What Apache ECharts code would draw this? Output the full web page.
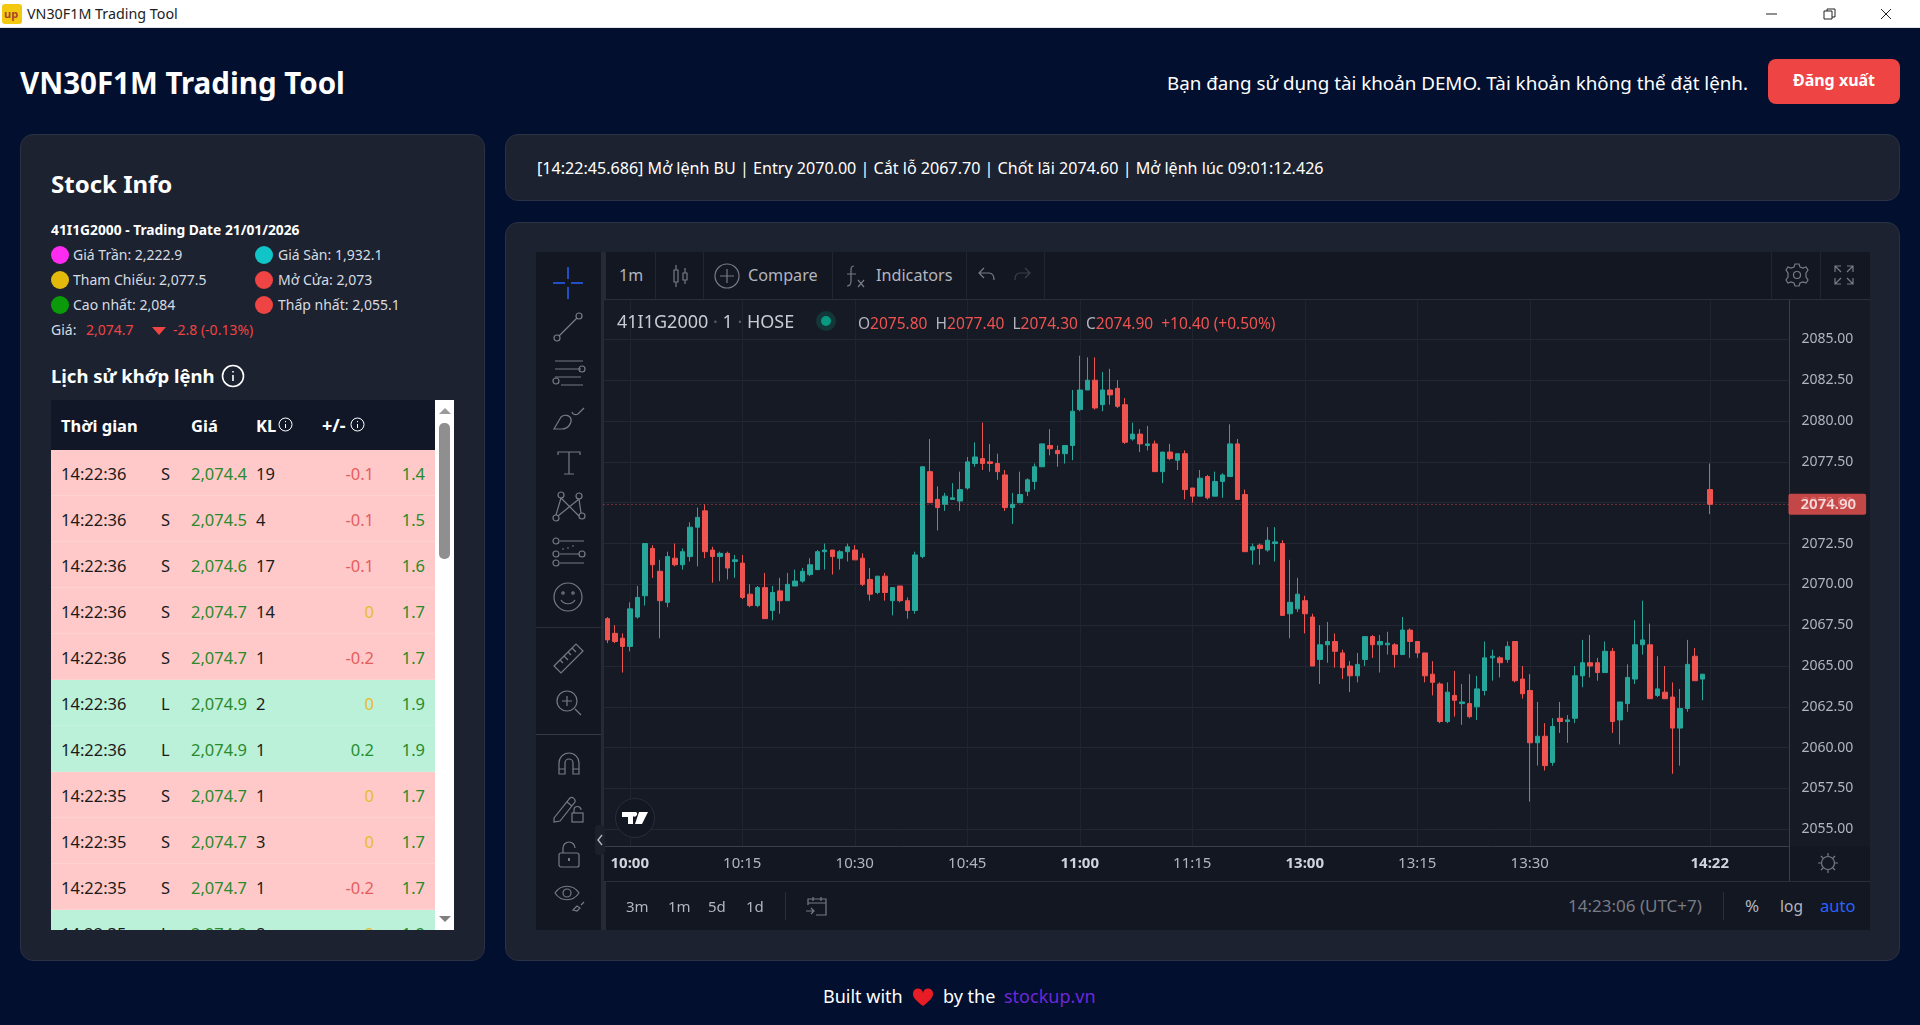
<!DOCTYPE html>
<html lang="vi">
<head>
<meta charset="utf-8">
<title>VN30F1M Trading Tool</title>
<script src="https://cdn.jsdelivr.net/npm/echarts@6/dist/echarts.min.js"></script>
<style>
html,body{margin:0;padding:0;width:1920px;height:1025px;overflow:hidden;background:#020f2e;font-family:"Noto Sans","Open Sans",sans-serif;color:#fff}
.a{position:absolute}
.t{position:absolute;transform:translateY(-50%);white-space:nowrap;line-height:1.2}
.card{position:absolute;background:#1c222f;border:1px solid #293142;border-radius:13px;box-sizing:border-box}
.dot{position:absolute;width:18px;height:18px;border-radius:50%;transform:translateY(-50%)}
.tv{font-family:"Noto Sans",sans-serif;color:#b2b5be}
.ic{position:absolute;fill:none;stroke:#787b86;stroke-width:1.2}
.row{position:absolute;left:0;width:384px;height:46px;box-sizing:border-box;border-bottom:1px solid rgba(255,255,255,.18);color:#1b1b1b;font-size:16.5px}
.row span{position:absolute;top:23px;transform:translateY(-50%);white-space:nowrap}
</style>
</head>
<body>
<!-- title bar -->
<div class="a" style="left:0;top:0;width:1920px;height:28px;background:#fff;border-bottom:1px solid #e3e3e3;box-sizing:border-box"></div>
<div class="a" style="left:2px;top:4px;width:20px;height:20px;background:#f2c811;border-radius:3px"></div>
<div class="t" style="left:4px;top:14px;color:#a8452a;font-size:11px;font-weight:700">up</div>
<div class="t" style="left:27px;top:14px;color:#222;font-size:14.3px">VN30F1M Trading Tool</div>
<svg class="a" style="left:1760px;top:6px" width="140" height="16" fill="none" stroke="#222" stroke-width="1">
  <path d="M6 8h11M64 5h8v8h-8zM67 5V3h8v8h-3M121 3l10 10M131 3l-10 10"/>
</svg>

<!-- header -->
<div class="t" style="left:20px;top:83px;font-size:29.5px;font-weight:700">VN30F1M Trading Tool</div>
<div class="t" style="left:1167px;top:83px;font-size:18.8px">Bạn đang sử dụng tài khoản DEMO. Tài khoản không thể đặt lệnh.</div>
<div class="a" style="left:1768px;top:59px;width:132px;height:45px;background:#ef4444;border-radius:8px"></div>
<div class="t" style="left:1768px;top:81px;width:132px;text-align:center;font-size:16px;font-weight:700">Đăng xuất</div>

<!-- left card -->
<div class="card" style="left:20px;top:134px;width:465px;height:827px"></div>
<div class="t" style="left:51px;top:184px;font-size:24px;font-weight:700">Stock Info</div>
<div class="t" style="left:51px;top:230px;font-size:13.8px;font-weight:700">41I1G2000 - Trading Date 21/01/2026</div>
<div id="stats"></div>
<div class="t" style="left:51px;top:330px;font-size:14px;color:#d8dce2">Giá:</div>
<div class="t" style="left:86px;top:330px;font-size:14px;color:#ef4444">2,074.7</div>
<div class="a" style="left:152px;top:327px;width:0;height:0;border-left:7px solid transparent;border-right:7px solid transparent;border-top:8px solid #ef4444"></div>
<div class="t" style="left:173px;top:330px;font-size:14px;color:#ef4444">-2.8 (-0.13%)</div>
<div class="t" style="left:51px;top:376px;font-size:18.5px;font-weight:700">Lịch sử khớp lệnh</div>
<svg class="a" style="left:221px;top:364px" width="24" height="24" fill="none" stroke="#fff" stroke-width="1.6"><circle cx="12" cy="12" r="10.5"/><path d="M12 11v6M12 7v1.500"/></svg>

<!-- order table -->
<div class="a" style="left:51px;top:400px;width:403px;height:530px;background:#fff;overflow:hidden">
  <div class="a" style="left:0;top:0;width:384px;height:50px;background:#111726"></div>
  <div class="t" style="left:10px;top:26px;font-size:16.5px;font-weight:700">Thời gian</div>
  <div class="t" style="left:140px;top:26px;font-size:16.5px;font-weight:700">Giá</div>
  <div class="t" style="left:205px;top:26px;font-size:16.5px;font-weight:700">KL</div>
  <div class="t" style="left:271px;top:26px;font-size:18px;font-weight:700">+/-</div>
  <svg class="a" style="left:227px;top:17px" width="15" height="15" fill="none" stroke="#fff" stroke-width="1"><circle cx="7.5" cy="7.5" r="6.5"/><path d="M7.5 7v4M7.5 4v1.2"/></svg>
  <svg class="a" style="left:299px;top:17px" width="15" height="15" fill="none" stroke="#fff" stroke-width="1"><circle cx="7.5" cy="7.5" r="6.5"/><path d="M7.5 7v4M7.5 4v1.2"/></svg>
  <div id="rows" class="a" style="left:0;top:50px;width:384px;height:480px;overflow:hidden"></div>
  <div class="a" style="left:388px;top:23px;width:11px;height:136px;background:#8f8f8f;border-radius:5px"></div>
  <div class="a" style="left:388px;top:8px;width:0;height:0;border-left:6px solid transparent;border-right:6px solid transparent;border-bottom:6px solid #9a9a9a"></div>
  <div class="a" style="left:388px;top:516px;width:0;height:0;border-left:6px solid transparent;border-right:6px solid transparent;border-top:6px solid #7f7f7f"></div>
</div>

<!-- status card -->
<div class="card" style="left:505px;top:134px;width:1395px;height:67px"></div>
<div class="t" style="left:537px;top:169px;font-size:16.1px">[14:22:45.686] Mở lệnh BU | Entry 2070.00 | Cắt lỗ 2067.70 | Chốt lãi 2074.60 | Mở lệnh lúc 09:01:12.426</div>

<!-- chart card and widget -->
<div class="card" style="left:505px;top:222px;width:1395px;height:739px"></div>
<div class="a" style="left:536px;top:252px;width:1334px;height:678px;background:#262a35"></div>
<div class="a" style="left:536px;top:252px;width:65px;height:678px;background:#131722"></div>
<div class="a" style="left:606px;top:252px;width:1264px;height:48px;background:#131722"></div>
<div class="a" style="left:604px;top:300px;width:1266px;height:546px;background:#161a25"></div>
<div class="a" style="left:604px;top:846px;width:1266px;height:35px;background:#131722"></div>
<div class="a" style="left:606px;top:882px;width:1264px;height:48px;background:#131722"></div>
<div class="a" style="left:536px;top:627px;width:65px;height:1px;background:#2a2e39"></div>
<div class="a" style="left:536px;top:734px;width:65px;height:1px;background:#363a45"></div>
<div id="seps"></div>

<div id="main" class="a" style="left:600px;top:300px;width:1270px;height:581px"></div>

<!-- top toolbar -->
<div class="t tv" style="left:619px;top:276px;font-size:16px">1m</div>
<svg class="ic" style="left:669px;top:262px" width="22" height="28"><path d="M7 3v5M7 20v5M5 8h4v12H5zM16 6v5M16 18v4M14 11h4v7h-4z"/></svg>
<svg class="ic" style="left:714px;top:263px" width="26" height="26"><circle cx="13" cy="13" r="12"/><path d="M13 6v14M6 13h14"/></svg>
<div class="t tv" style="left:748px;top:276px;font-size:16.2px">Compare</div>
<svg class="ic" style="left:843px;top:263px" width="24" height="26"><path d="M11 3c-3 0-3 2-3 5v10c0 3-1 5-4 5M4 11h9M15 17l6 7M21 17l-6 7"/></svg>
<div class="t tv" style="left:876px;top:276px;font-size:16.2px">Indicators</div>
<svg class="ic" style="left:977px;top:266px" width="20" height="18"><path d="M7 2 2 7l5 5M2 7h10c3 0 5 2 5 7"/></svg>
<svg class="ic" style="left:1012px;top:266px;stroke:#3c404c" width="20" height="18"><path d="M13 2l5 5-5 5M18 7H8c-3 0-5 2-5 7"/></svg>
<svg class="ic" style="left:1784px;top:262px" width="26" height="26"><circle cx="13" cy="13" r="3.5"/><path d="M11 2h4l1 3 3 1 3-1 2 3-2 3v4l2 3-2 3-3-1-3 1-1 3h-4l-1-3-3-1-3 1-2-3 2-3v-4L2 8l2-3 3 1 3-1z"/></svg>
<svg class="ic" style="left:1833px;top:264px" width="22" height="22"><path d="M2 8V2h6M2 2l6 6M20 8V2h-6M20 2l-6 6M2 14v6h6M2 20l6-6M20 14v6h-6M20 20l-6-6"/></svg>

<!-- legend over the plot -->
<div class="t" style="left:617px;top:322px;font-size:18px;color:#c8cbd2">41I1G2000 <span style="color:#5d606b">·</span> 1 <span style="color:#5d606b">·</span> HOSE</div>
<div class="a" style="left:816px;top:311px;width:20px;height:20px;border-radius:50%;background:rgba(8,153,129,.22)"></div>
<div class="a" style="left:821px;top:316px;width:10px;height:10px;border-radius:50%;background:#089981"></div>
<div class="t" style="left:858px;top:323px;font-size:15.5px;color:#b2b5be">O<span style="color:#ef5350">2075.80</span>&nbsp; H<span style="color:#ef5350">2077.40</span>&nbsp; L<span style="color:#ef5350">2074.30</span>&nbsp; C<span style="color:#ef5350">2074.90</span>&nbsp; <span style="color:#ef5350">+10.40 (+0.50%)</span></div>

<!-- left toolbar -->
<svg class="a" style="left:550px;top:265px" width="36" height="36" fill="none" stroke="#2962ff" stroke-width="1.5"><path d="M18 2v12M18 22v12M3 18h12M21 18h12"/></svg>
<svg class="ic" style="left:552px;top:310px" width="32" height="34"><circle cx="5" cy="28" r="3"/><circle cx="27" cy="6" r="3"/><path d="M7 26 25 8"/></svg>
<svg class="ic" style="left:552px;top:358px" width="34" height="28"><path d="M3 3h28M3 11h26M3 19h26M9 27h22"/><circle cx="30" cy="11" r="3"/><circle cx="4" cy="23" r="3"/></svg>
<svg class="ic" style="left:552px;top:404px" width="34" height="28"><path d="M2 25 9 13c3-3 9-2 10 2 1 4-3 10-9 10zM20 8c1 3 4 3 6 2l6-6"/></svg>
<svg class="ic" style="left:554px;top:449px" width="30" height="28"><path d="M4 6V3h22v3M15 3v22M10 25h10"/></svg>
<svg class="ic" style="left:552px;top:490px" width="34" height="34"><circle cx="9" cy="5" r="3"/><circle cx="27" cy="6" r="3"/><circle cx="4" cy="28" r="3"/><circle cx="30" cy="26" r="3"/><path d="M9 8 4 25M9 8l18 18M27 9 6 26M27 9l2 14"/></svg>
<svg class="ic" style="left:552px;top:536px" width="34" height="32"><circle cx="4" cy="5" r="3"/><circle cx="4" cy="18" r="3"/><circle cx="4" cy="27" r="3"/><circle cx="30" cy="18" r="3"/><path d="M8 5h24M8 27h24M8 18h19M10 13h2M15 12h2M20 10h2"/></svg>
<svg class="ic" style="left:552px;top:581px" width="32" height="32" stroke-width="1.4"><circle cx="16" cy="16" r="14"/><circle cx="11" cy="12" r="1.2"/><circle cx="21" cy="12" r="1.2"/><path d="M9 19c3 5 11 5 14 0"/></svg>
<svg class="ic" style="left:552px;top:642px" width="34" height="34"><path d="M2 24 24 2l7 7L9 31zM8 18l3 3M12 14l4 4M16 10l3 3M20 6l4 4"/></svg>
<svg class="ic" style="left:554px;top:688px" width="30" height="30"><circle cx="13" cy="13" r="10"/><path d="M13 8v10M8 13h10M21 21l6 6"/></svg>
<svg class="ic" style="left:556px;top:750px" width="26" height="28"><path d="M3 24V13a10 10 0 0 1 20 0v11h-6V13a4 4 0 0 0-8 0v11zM3 19h6M17 19h6"/></svg>
<svg class="ic" style="left:552px;top:794px" width="34" height="30"><path d="M2 24 18 4c2-2 6 1 5 4L8 27l-6 1zM15 8l5 4"/><rect x="20" y="19" width="11" height="9"/><path d="M22 19v-3a3.500 3.500 0 0 1 7 0"/></svg>
<svg class="ic" style="left:556px;top:840px" width="26" height="30"><rect x="3" y="13" width="20" height="14" rx="2"/><path d="M7 13V8a6 6 0 0 1 12 0"/><path d="M13 18v3" stroke-width="2"/></svg>
<svg class="ic" style="left:553px;top:882px" width="34" height="34"><path d="M2 11c6-9 18-9 24 0-6 9-18 9-24 0z"/><circle cx="14" cy="11" r="4"/><path d="M20 28l4-4 3 2-3 3zM28 23l3-3"/></svg>
<div class="a" style="left:595px;top:825px;width:10px;height:30px;background:#1c202b;border-radius:4px"></div>
<svg class="a" style="left:596px;top:834px" width="8" height="12" fill="none" stroke="#b2b5be" stroke-width="1.4"><path d="M6 1 2 6l4 5"/></svg>
<div class="a" style="left:615px;top:798px;width:40px;height:40px;border-radius:50%;background:#131722;border:1px solid #2a2e39;box-sizing:border-box"></div>
<svg class="a" style="left:621px;top:811px" width="28" height="14" fill="#fff"><path d="M1 1h11v12H7V6H1zM18 1h9l-6 12h-7zM12 1h3a2.500 2.500 0 1 1-3 0z"/></svg>

<!-- bottom bar -->
<div class="t tv" style="left:626px;top:906px;font-size:15px">3m</div>
<div class="t tv" style="left:668px;top:906px;font-size:15px">1m</div>
<div class="t tv" style="left:708px;top:906px;font-size:15px">5d</div>
<div class="t tv" style="left:746px;top:906px;font-size:15px">1d</div>
<svg class="ic" style="left:804px;top:895px" width="24" height="22"><path d="M4 10V4h18v16H12M4 8h18M9 2v4M17 2v4M2 16h8M7 13l3 3-3 3"/></svg>
<div class="t" style="left:1568px;top:906px;font-size:17px;color:#787b86">14:23:06 (UTC+7)</div>
<div class="t tv" style="left:1745px;top:906px;font-size:17px">%</div>
<div class="t tv" style="left:1780px;top:906px;font-size:15.5px">log</div>
<div class="t" style="left:1820px;top:906px;font-size:16.5px;color:#2962ff">auto</div>
<svg class="ic" style="left:1816px;top:851px" width="24" height="24"><circle cx="12" cy="12" r="6.500"/><path d="M12 2v3M12 19v3M2 12h3M19 12h3M5 5l2 2M17 17l2 2M5 19l2-2M17 7l2-2"/></svg>

<!-- footer -->
<div class="t" style="left:823px;top:997px;font-size:18px">Built with</div>
<svg class="a" style="left:912px;top:988px" width="22" height="19" fill="#e81c24"><path d="M11 18C3 12 1 9 1 6a5 5 0 0 1 10-1 5 5 0 0 1 10 1c0 3-2 6-10 12z"/></svg>
<div class="t" style="left:943px;top:997px;font-size:18px">by the</div>
<div class="t" style="left:1004px;top:997px;font-size:18px;color:#6d28d9">stockup.vn</div>

<script>
// gia mo, cao, thap, dong cua tung nen 1 phut, doc tu hinh
var opens = [2067.9,2067.0,2066.7,2066.2,2068.0,2069.3,2072.2,2070.8,2068.9,2071.6,2071.2,2071.7,2073.5,2074.5,2072.1,2071.7,2071.9,2071.4,2071.3,2069.4,
  2068.7,2069.8,2068.4,2069.6,2069.0,2069.9,2070.2,2070.6,2070.9,2072.0,2072.1,2071.6,2072.0,2072.1,2071.6,2070.3,2069.5,2070.5,2069.0,2069.9,
  2069.0,2068.4,2071.7,2076.9,2075.2,2074.9,2075.2,2075.1,2075.9,2077.4,2077.7,2077.5,2077.4,2076.7,2074.7,2075.0,2075.7,2076.3,2077.2,2078.5,
  2078.2,2078.0,2078.5,2080.7,2081.9,2082.5,2081.0,2081.9,2082.0,2081.0,2078.9,2079.2,2078.5,2078.6,2076.9,2078.1,2077.6,2078.0,2075.9,2075.4,
  2076.6,2075.4,2076.3,2076.6,2078.6,2075.5,2072.1,2072.4,2072.1,2072.5,2072.5,2068.2,2068.5,2069.0,2068.0,2065.4,2066.3,2066.5,2065.8,2065.0,
  2064.4,2065.4,2066.8,2066.3,2066.3,2066.3,2065.7,2067.2,2066.5,2065.8,2064.5,2063.9,2061.6,2063.2,2062.7,2062.7,2062.5,2063.5,2065.5,2065.5,
  2065.4,2066.5,2064.2,2063.5,2060.3,2060.7,2059.1,2061.8,2061.6,2061.8,2064.4,2065.2,2065.2,2064.6,2065.9,2061.7,2062.7,2064.2,2066.3,2066.3,
  2063.2,2063.4,2063.1,2061.2,2062.4,2065.6,2064.2,2075.8];
var highs = [2068.0,2067.5,2067.0,2068.9,2069.9,2072.5,2072.4,2071.5,2072.0,2072.5,2072.2,2073.8,2074.7,2074.9,2072.3,2072.0,2072.0,2071.8,2071.8,2070.0,
  2069.9,2070.7,2069.9,2070.4,2070.7,2070.9,2071.0,2071.6,2072.1,2072.5,2072.1,2072.1,2072.5,2072.4,2071.9,2071.0,2070.5,2070.7,2069.8,2069.9,
  2069.2,2072.0,2077.2,2078.9,2076.0,2075.6,2076.2,2076.9,2077.8,2078.7,2079.9,2078.6,2078.0,2077.0,2075.6,2076.9,2076.5,2077.4,2078.6,2079.5,
  2078.5,2078.5,2081.9,2084.0,2083.9,2083.9,2083.0,2083.2,2082.5,2081.4,2079.9,2079.5,2079.7,2078.8,2078.1,2078.6,2078.0,2078.2,2075.9,2077.0,
  2076.7,2076.9,2076.8,2079.8,2078.9,2075.8,2072.5,2072.5,2073.5,2073.5,2072.7,2071.5,2070.4,2069.3,2068.2,2067.5,2067.7,2067.0,2066.0,2065.3,
  2065.8,2066.8,2066.9,2066.9,2067.1,2066.4,2068.0,2067.3,2066.5,2065.8,2065.3,2064.0,2064.0,2064.7,2063.9,2064.5,2064.4,2066.5,2066.0,2065.6,
  2066.5,2066.5,2065.0,2064.5,2062.8,2061.5,2061.8,2062.8,2062.0,2065.0,2066.6,2066.9,2065.5,2066.5,2066.1,2062.8,2065.1,2067.8,2069.0,2067.6,
  2065.6,2065.0,2064.0,2063.6,2066.6,2066.1,2064.5,2077.4];
var lows = [2066.4,2066.4,2064.6,2065.9,2067.9,2068.7,2070.4,2066.7,2068.6,2071.1,2070.9,2071.4,2071.1,2071.6,2070.1,2070.2,2070.3,2070.4,2069.1,2068.6,
  2068.6,2067.9,2067.8,2068.2,2069.0,2069.9,2070.1,2070.5,2070.9,2070.9,2070.6,2070.9,2071.4,2071.5,2069.9,2069.0,2069.4,2069.0,2068.1,2068.9,
  2067.9,2068.2,2071.6,2075.0,2073.3,2074.5,2075.2,2074.5,2075.8,2077.2,2077.0,2076.9,2076.4,2074.5,2073.7,2075.0,2075.4,2075.8,2077.2,2077.9,
  2077.2,2077.4,2077.6,2080.6,2081.9,2080.7,2080.6,2081.0,2080.8,2078.6,2078.8,2078.1,2078.2,2076.9,2076.2,2077.6,2077.0,2075.2,2075.0,2075.4,
  2075.2,2075.4,2075.3,2076.6,2075.2,2072.0,2071.2,2071.2,2072.0,2071.4,2068.1,2066.7,2068.3,2067.0,2065.0,2063.9,2065.2,2064.9,2064.2,2063.4,
  2064.0,2065.0,2065.5,2064.6,2065.7,2064.9,2065.7,2065.5,2065.5,2064.0,2063.2,2061.5,2061.5,2061.9,2061.4,2061.8,2061.7,2063.2,2064.1,2064.3,
  2065.2,2064.0,2063.0,2056.7,2058.9,2058.6,2058.9,2060.9,2060.3,2061.5,2063.7,2064.3,2064.1,2064.6,2060.9,2060.2,2062.2,2063.9,2065.7,2063.0,
  2063.1,2063.0,2058.4,2058.9,2062.2,2064.1,2062.9,2074.3];
var closes = [2066.6,2066.5,2066.2,2068.5,2069.2,2072.5,2071.2,2069.0,2071.7,2071.2,2072.0,2073.5,2074.1,2072.0,2071.7,2071.9,2071.0,2071.5,2069.2,2068.7,
  2069.8,2067.9,2069.5,2069.0,2070.0,2070.2,2070.8,2071.2,2072.0,2072.1,2071.7,2072.0,2072.3,2071.5,2070.0,2069.4,2070.5,2069.5,2069.8,2069.0,
  2068.4,2071.8,2077.2,2075.0,2074.7,2075.4,2075.3,2075.8,2077.5,2077.8,2077.4,2077.4,2076.9,2074.7,2074.9,2075.5,2076.4,2077.2,2078.6,2078.3,
  2078.0,2078.5,2080.6,2081.9,2082.5,2080.8,2081.9,2081.6,2080.9,2078.7,2079.2,2078.6,2078.6,2076.9,2078.1,2077.7,2078.0,2075.8,2075.4,2076.5,
  2075.3,2076.3,2076.7,2078.6,2075.2,2072.0,2072.3,2072.2,2072.7,2072.6,2068.1,2068.9,2069.4,2068.2,2065.0,2066.3,2066.5,2065.9,2064.9,2064.4,
  2065.1,2066.8,2066.3,2066.5,2066.4,2065.7,2067.2,2066.5,2065.8,2064.4,2064.0,2061.6,2063.4,2062.9,2062.8,2061.9,2063.6,2065.5,2065.6,2065.2,
  2066.2,2064.1,2063.3,2060.3,2060.7,2058.9,2061.3,2061.6,2061.7,2064.4,2065.2,2065.0,2064.6,2065.9,2061.6,2062.8,2064.3,2066.3,2066.6,2063.0,
  2063.6,2063.0,2061.2,2062.4,2065.1,2064.1,2064.5,2074.9];
// 3 phien tren truc thoi gian: dau, so phut
var sessions = [[9, 57, 93], [13, 0, 54], [14, 22, 11]];
var boldTimes = ['10:00', '11:00', '13:00', '14:22'];
var shownTimes = ['10:00', '10:15', '10:30', '10:45', '11:00', '11:15', '13:00', '13:15', '13:30', '14:22'];
var lastClose = 2074.9;

// bang thong tin
var statRows = [
  ['Giá Trần: 2,222.9', '#ff2bf0', 'Giá Sàn: 1,932.1', '#10c4c8'],
  ['Tham Chiếu: 2,077.5', '#e3b90b', 'Mở Cửa: 2,073', '#ef4444'],
  ['Cao nhất: 2,084', '#0a9a0a', 'Thấp nhất: 2,055.1', '#ef4444']
];
// lich su khop lenh
var rowTimes = ['14:22:36','14:22:36','14:22:36','14:22:36','14:22:36','14:22:36','14:22:36','14:22:35','14:22:35','14:22:35','14:22:35'];
var rowSides = ['S','S','S','S','S','L','L','S','S','S','L'];
var rowPrices = ['2,074.4','2,074.5','2,074.6','2,074.7','2,074.7','2,074.9','2,074.9','2,074.7','2,074.7','2,074.7','2,074.9'];
var rowVols = ['19','4','17','14','1','2','1','1','3','1','8'];
var rowDiffs = ['-0.1','-0.1','-0.1','0','-0.2','0','0.2','0','0','-0.2','0'];
var rowPcts = ['1.4','1.5','1.6','1.7','1.7','1.9','1.9','1.7','1.7','1.7','1.9'];

var html = '';
statRows.forEach(function (r, i) {
  var y = 255 + i * 25;
  html += '<div class="dot" style="left:51px;top:' + y + 'px;background:' + r[1] + '"></div>';
  html += '<div class="t" style="left:73px;top:' + y + 'px;font-size:14px;color:#d8dce2">' + r[0] + '</div>';
  html += '<div class="dot" style="left:255px;top:' + y + 'px;background:' + r[3] + '"></div>';
  html += '<div class="t" style="left:278px;top:' + y + 'px;font-size:14px;color:#d8dce2">' + r[2] + '</div>';
});
document.getElementById('stats').innerHTML = html;

html = '';
rowTimes.forEach(function (t, i) {
  var d = rowDiffs[i];
  var dc = d === '0' ? '#e8bb2e' : (d.charAt(0) === '-' ? '#e55c5c' : '#1f8f2f');
  html += '<div class="row" style="top:' + (i * 46) + 'px;background:' + (rowSides[i] === 'S' ? '#ffc9c9' : '#bbf0d9') + '">' +
    '<span style="left:10px">' + t + '</span>' +
    '<span style="left:110px">' + rowSides[i] + '</span>' +
    '<span style="left:140px;color:#2b8a2b">' + rowPrices[i] + '</span>' +
    '<span style="left:205px">' + rowVols[i] + '</span>' +
    '<span style="right:61px;color:' + dc + '">' + d + '</span>' +
    '<span style="right:10px;color:#2b8a2b">' + rowPcts[i] + '</span></div>';
});
document.getElementById('rows').innerHTML = html;

// cac duong ke doc trong toolbar
html = '';
[655, 703, 832, 966, 1044, 1771, 1820].forEach(function (x) {
  html += '<div class="a" style="left:' + x + 'px;top:252px;width:1px;height:48px;background:#222631"></div>';
});
[785, 1723].forEach(function (x) {
  html += '<div class="a" style="left:' + x + 'px;top:892px;width:1px;height:28px;background:#2a2e39"></div>';
});
html += '<div class="a" style="left:604px;top:299px;width:1266px;height:1px;background:#2a2e39"></div>';
html += '<div class="a" style="left:604px;top:881px;width:1266px;height:1px;background:#2a2e39"></div>';
html += '<div class="a" style="left:1789px;top:300px;width:1px;height:581px;background:#3a3e49"></div>';
document.getElementById('seps').innerHTML = html;

// truc thoi gian
var categories = [];
sessions.forEach(function (s) {
  for (var m = 0; m < s[2]; m++) {
    var total = s[0] * 60 + s[1] + m;
    var hh = Math.floor(total / 60), mm = total % 60;
    categories.push((hh < 10 ? '0' : '') + hh + ':' + (mm < 10 ? '0' : '') + mm);
  }
});

var candles = [];
for (var i = 0; i < opens.length; i++) {
  candles.push([opens[i], closes[i], lows[i], highs[i]]);
}

var chart = echarts.init(document.getElementById('main'));
chart.setOption({
  animation: false,
  backgroundColor: 'transparent',
  grid: {left: 3.5, top: 0, width: 1185, height: 546, containLabel: false},
  xAxis: {
    type: 'category',
    data: categories,
    boundaryGap: true,
    axisLine: {lineStyle: {color: '#3a3e49', width: 1}},
    axisTick: {show: false},
    axisLabel: {
      margin: 10,
      color: '#b2b5be',
      fontSize: 15,
      fontFamily: '"Noto Sans", sans-serif',
      interval: function (idx, v) { return shownTimes.indexOf(v) >= 0; },
      hideOverlap: false,
      formatter: function (v) {
        return boldTimes.indexOf(v) >= 0 ? '{b|' + v + '}' : v;
      },
      rich: {b: {fontWeight: 700, fontSize: 15, color: '#d1d4dc', fontFamily: '"Noto Sans", sans-serif'}}
    },
    splitLine: {
      show: true,
      alignWithLabel: true,
      interval: function (idx, v) { return shownTimes.indexOf(v) >= 0; },
      lineStyle: {color: '#20242f', width: 1}
    }
  },
  yAxis: {
    type: 'value',
    position: 'right',
    scale: true,
    min: 2053.98,
    max: 2087.41,
    splitNumber: 13,
    minInterval: 2.5,
    maxInterval: 2.5,
    axisLine: {show: false},
    axisTick: {show: false},
    axisLabel: {
      margin: 13,
      padding: [2, 0, 0, 0],
      showMinLabel: false,
      showMaxLabel: false,
      color: '#b2b5be',
      fontSize: 14,
      fontFamily: '"Noto Sans", sans-serif',
      formatter: function (v) { return v.toFixed(2); }
    },
    splitLine: {showMinLine: false, showMaxLine: false, lineStyle: {color: '#242835', width: 1}}
  },
  series: [{
    type: 'candlestick',
    data: candles,
    barWidth: 5,
    itemStyle: {
      color: '#26a69a',
      color0: '#ef5350',
      borderColor: '#26a69a',
      borderColor0: '#ef5350',
      borderWidth: 1
    },
    markLine: {
      silent: true,
      symbol: 'none',
      animation: false,
      data: [{yAxis: lastClose}],
      lineStyle: {color: '#ef5350', type: [1, 3], width: 1, opacity: 0.8},
      label: {
        position: 'end',
        distance: 0,
        formatter: function (p) { return p.value.toFixed(2); },
        color: '#fff',
        fontSize: 15,
        fontWeight: 600,
        fontFamily: '"Noto Sans", sans-serif',
        backgroundColor: '#ef5350',
        padding: [3, 10, 3, 12],
        borderRadius: 2
      }
    }
  }]
});
</script>
</body>
</html>
